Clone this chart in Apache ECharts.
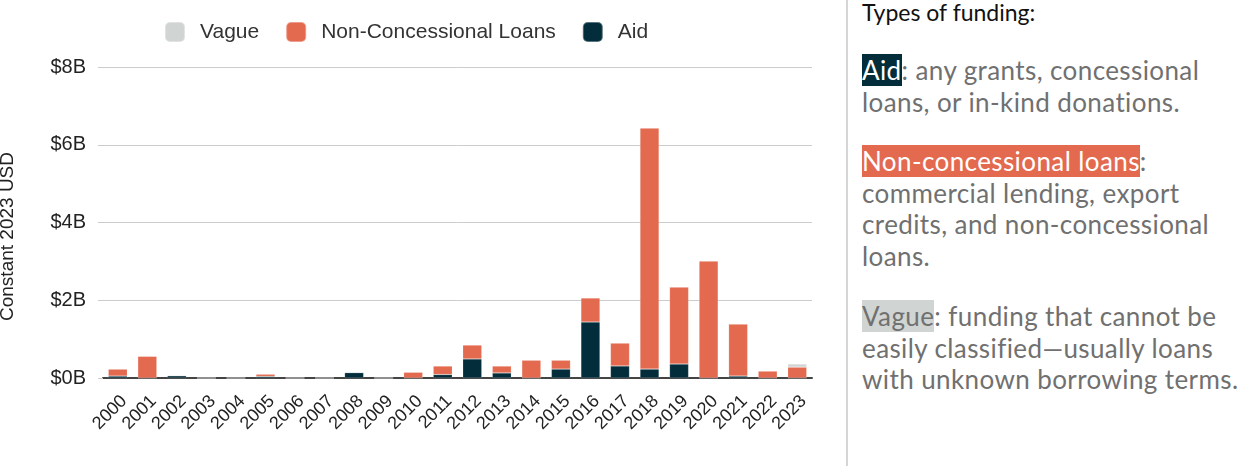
<!DOCTYPE html>
<html>
<head>
<meta charset="utf-8">
<script src="https://cdn.jsdelivr.net/npm/echarts@6/dist/echarts.min.js"></script>
<style>
  html, body { margin: 0; padding: 0; background: #fff; }
  #wrap { position: relative; width: 1242px; height: 466px; overflow: hidden; }
  #chart { position: absolute; left: 0; top: 0; width: 846px; height: 466px; }
  #sep { position: absolute; left: 846px; top: 0; width: 2px; height: 466px; background: #d4d6d6; }
  .note { position: absolute; left: 862px; font-family: Lato, sans-serif; font-size: 26px;
          letter-spacing: 0.4px; line-height: 31.5px; color: #707070; white-space: nowrap; }
  .title { color: #111; font-size: 23px; letter-spacing: 0; }
  .hl-aid { background: #032d3b; color: #fff; }
  .hl-ncl { background: #e3694f; color: #fff; }
  .hl-vague { background: #d0d4d3; color: #707070; }
</style>
</head>
<body>
<div id="wrap">
  <div id="chart"></div>
  <div id="sep"></div>
  <div class="note title" style="top:-3px">Types of funding:</div>
  <div class="note" style="top:55px"><span class="hl-aid">Aid</span>: any grants, concessional<br>loans, or in-kind donations.</div>
  <div class="note" style="top:146px"><span class="hl-ncl">Non-concessional loans</span>:<br>commercial lending, export<br>credits, and non-concessional<br>loans.</div>
  <div class="note" style="top:301px"><span class="hl-vague">Vague</span>: funding that cannot be<br>easily classified—usually loans<br>with unknown borrowing terms.</div>
</div>
<script>
// values in billions of constant 2023 USD
const years = ['2000', '2001', '2002', '2003', '2004', '2005', '2006', '2007', '2008', '2009', '2010', '2011',
  '2012', '2013', '2014', '2015', '2016', '2017', '2018', '2019', '2020', '2021', '2022', '2023']
const aid = [0.05, 0, 0.06, 0, 0, 0.04, 0, 0, 0.14, 0, 0, 0.09,
  0.49, 0.13, 0, 0.23, 1.44, 0.31, 0.23, 0.36, 0, 0.05, 0, 0]
const nonConcessional = [0.18, 0.56, 0, 0, 0, 0.06, 0, 0, 0, 0, 0.15, 0.22,
  0.36, 0.18, 0.46, 0.23, 0.62, 0.59, 6.2, 1.98, 3.01, 1.34, 0.18, 0.28]
const vague = [0, 0, 0, 0, 0, 0, 0, 0, 0, 0, 0, 0,
  0, 0, 0, 0, 0, 0, 0, 0, 0, 0, 0, 0.08]
const yTicks = [0, 2, 4, 6, 8]

const colors = { aid: '#032d3b', ncl: '#e3694f', vague: '#d0d4d3' }
const font = 'Liberation Sans, Arial, sans-serif'

let chart = echarts.init(document.getElementById('chart'))

function barSeries(name, data, color) {
  return {
    name: name,
    type: 'bar',
    stack: 'total',
    barWidth: 19,
    data: data,
    itemStyle: { color: color, borderColor: 'rgba(255,255,255,0.35)', borderWidth: 0.5 },
    emphasis: { disabled: true }
  }
}

chart.setOption({
  animation: false,
  legend: {
    left: 159,
    top: 16,
    itemWidth: 20,
    itemHeight: 20,
    itemGap: 26,
    data: ['Vague', 'Non-Concessional Loans', 'Aid'],
    itemStyle: { borderRadius: 2 },
    textStyle: { fontFamily: font, fontSize: 21, color: '#333', padding: [0, 0, 0, 10] }
  },
  grid: { left: 103, width: 709, top: 67, bottom: 88, containLabel: false, outerBoundsMode: 'none' },
  xAxis: {
    type: 'category',
    data: years,
    axisLine: { lineStyle: { color: '#444', width: 2 } },
    axisTick: { show: false },
    axisLabel: { rotate: 45, interval: 0, fontFamily: font, fontSize: 18, color: '#222',
      margin: 14, verticalAlign: 'top' }
  },
  yAxis: {
    type: 'value',
    min: yTicks[0],
    max: yTicks[yTicks.length - 1],
    interval: 2,
    name: 'Constant 2023 USD',
    nameLocation: 'middle',
    nameGap: 86,
    nameTextStyle: { fontFamily: font, fontSize: 19, color: '#222', padding: [0, 28, 0, 0] },
    axisLine: { show: false },
    axisTick: { show: true, length: 5, lineStyle: { color: '#ccc' } },
    splitLine: { lineStyle: { color: '#ccc', width: 1 } },
    axisLabel: { fontFamily: font, fontSize: 20, color: '#222', margin: 17,
      formatter: v => '$' + v + 'B' }
  },
  series: [
    barSeries('Aid', aid, colors.aid),
    barSeries('Non-Concessional Loans', nonConcessional, colors.ncl),
    barSeries('Vague', vague, colors.vague)
  ]
})
</script>
</body>
</html>
